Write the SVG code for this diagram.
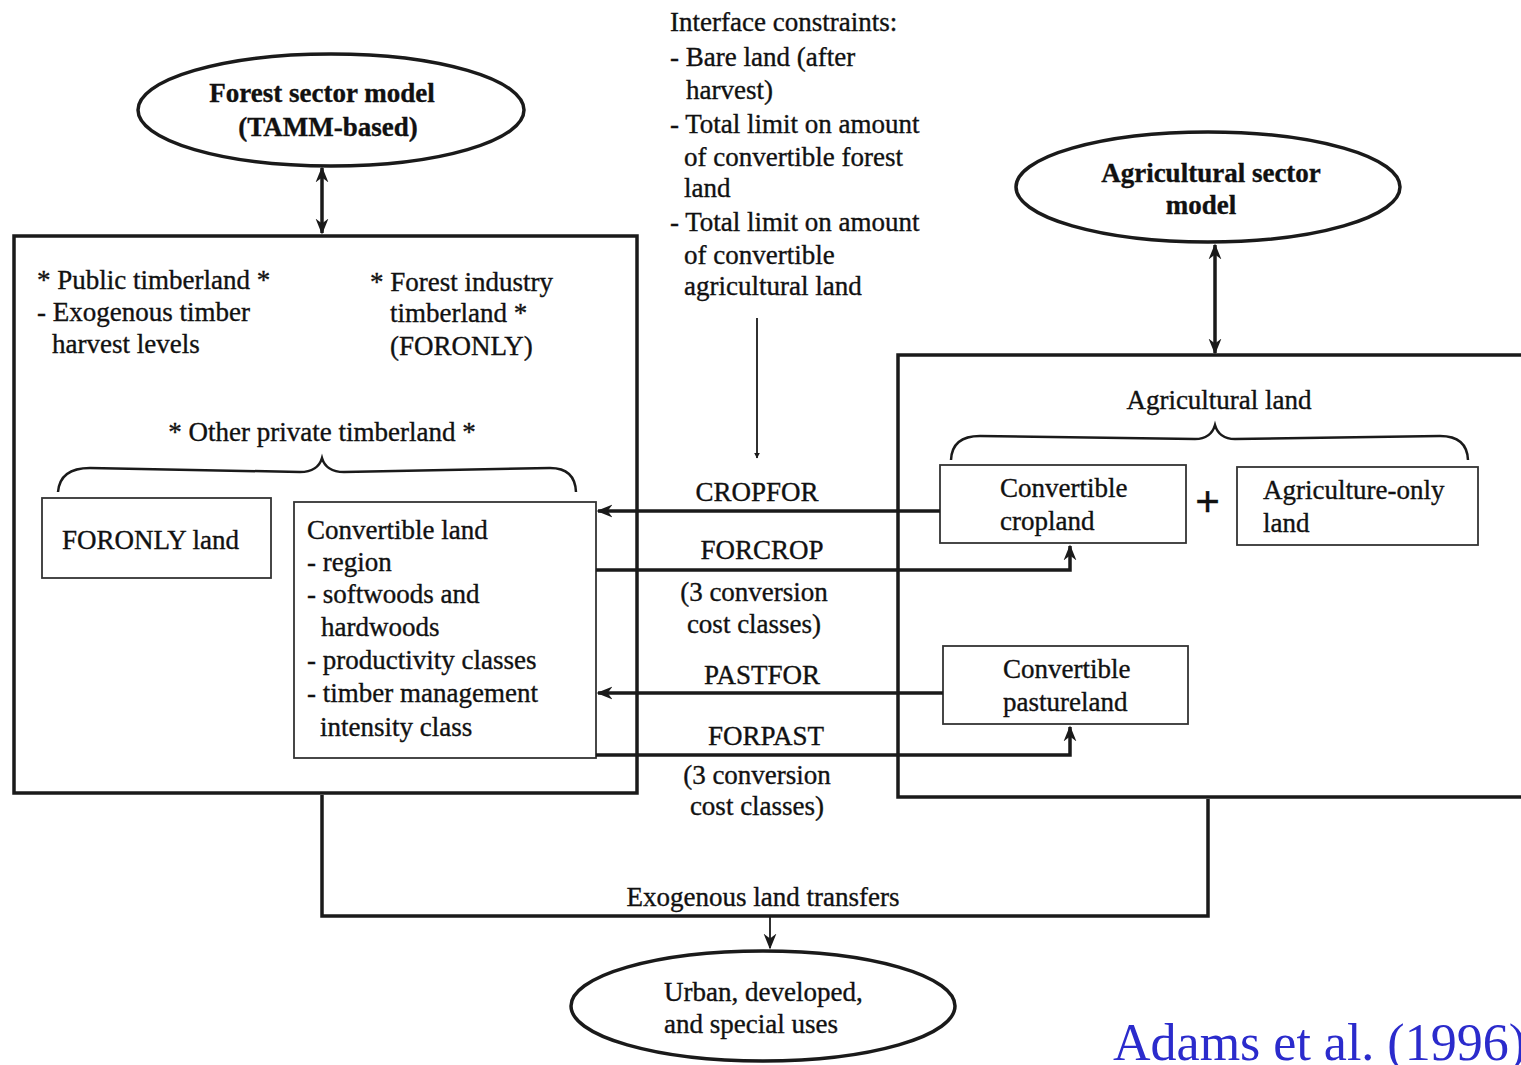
<svg xmlns="http://www.w3.org/2000/svg" width="1521" height="1065" viewBox="0 0 1521 1065">
<style>
text{font-family:"Liberation Serif",serif;font-size:27px;fill:#111;stroke:#111;stroke-width:0.35}
.b{font-weight:bold}
.m{text-anchor:middle}
.big{fill:none;stroke:#1a1a1a;stroke-width:3.5}
.box{fill:#fff;stroke:#333;stroke-width:1.8}
.ell{fill:#fff;stroke:#1a1a1a;stroke-width:3.5}
.c{fill:none;stroke:#1a1a1a;stroke-width:3.5}
.t{fill:none;stroke:#1a1a1a;stroke-width:1.8}
.br{fill:none;stroke:#1a1a1a;stroke-width:2.5}
</style>
<defs>
<marker id="ah" viewBox="0 0 10 10" refX="9" refY="5" markerWidth="6" markerHeight="6" orient="auto-start-reverse" markerUnits="userSpaceOnUse">
<path d="M0,0 L10,5 L0,10 z" fill="#1a1a1a"/>
</marker>
<marker id="ahl" viewBox="0 0 10 10" refX="9" refY="5" markerWidth="16" markerHeight="16" orient="auto-start-reverse" markerUnits="userSpaceOnUse">
<path d="M0,1 L10,5 L0,9 L3,5 z" fill="#1a1a1a"/>
</marker>
</defs>

<g id="forest-model">
<ellipse class="ell" cx="331" cy="110" rx="193" ry="56"/>
<text class="b m" x="322" y="102">Forest sector model</text>
<text class="b m" x="328" y="136">(TAMM-based)</text>
</g>

<g id="agri-model">
<ellipse class="ell" cx="1208" cy="187" rx="192" ry="55"/>
<text class="b m" x="1211" y="182">Agricultural sector</text>
<text class="b m" x="1201" y="214">model</text>
</g>

<g id="urban">
<ellipse class="ell" cx="763" cy="1006" rx="192" ry="55"/>
<text x="664" y="1001">Urban, developed,</text>
<text x="664" y="1033">and special uses</text>
</g>

<g id="interface-constraints">
<text x="670" y="31">Interface constraints:</text>
<text x="670" y="66">- Bare land (after</text>
<text x="686" y="99">harvest)</text>
<text x="670" y="133">- Total limit on amount</text>
<text x="684" y="166">of convertible forest</text>
<text x="684" y="197">land</text>
<text x="670" y="231">- Total limit on amount</text>
<text x="684" y="264">of convertible</text>
<text x="684" y="295">agricultural land</text>
</g>

<g id="forest-land">
<rect class="big" x="14" y="236" width="623" height="557"/>
<text x="37" y="289">* Public timberland *</text>
<text x="37" y="321">- Exogenous timber</text>
<text x="52" y="353">harvest levels</text>
<text x="370" y="291">* Forest industry</text>
<text x="390" y="322">timberland *</text>
<text x="390" y="355">(FORONLY)</text>
<text class="m" x="322" y="441">* Other private timberland *</text>
<path class="br" d="M58,492 Q60,468 90,468 L300,472 Q318,472 322,458 Q326,472 344,472 L550,468 Q575,468 576,492"/>
</g>

<g id="foronly-land">
<rect class="box" x="42" y="498" width="229" height="80"/>
<text x="62" y="549">FORONLY land</text>
</g>

<g id="convertible-land">
<rect class="box" x="294" y="502" width="302" height="256"/>
<text x="307" y="539">Convertible land</text>
<text x="307" y="571">- region</text>
<text x="307" y="603">- softwoods and</text>
<text x="321" y="636">hardwoods</text>
<text x="307" y="669">- productivity classes</text>
<text x="307" y="702">- timber management</text>
<text x="320" y="736">intensity class</text>
</g>

<g id="agri-land">
<rect class="big" x="898" y="355" width="640" height="442"/>
<text class="m" x="1219" y="409">Agricultural land</text>
<path class="br" d="M951,460 Q952,436 980,436 L1195,439 Q1211,439 1215,425 Q1219,439 1235,439 L1440,436 Q1467,436 1468,460"/>
<text class="b" x="1195" y="516" style="font-size:44px">+</text>
</g>

<g id="conv-cropland">
<rect class="box" x="940" y="465" width="246" height="78"/>
<text x="1000" y="497">Convertible</text>
<text x="1000" y="530">cropland</text>
</g>

<g id="agri-only">
<rect class="box" x="1237" y="467" width="241" height="78"/>
<text x="1263" y="499">Agriculture-only</text>
<text x="1263" y="532">land</text>
</g>

<g id="conv-pasture">
<rect class="box" x="943" y="646" width="245" height="78"/>
<text x="1003" y="678">Convertible</text>
<text x="1003" y="711">pastureland</text>
</g>

<g id="connectors">
<path class="c" d="M322,168 L322,233" marker-start="url(#ahl)" marker-end="url(#ahl)"/>
<path class="c" d="M1215,245 L1215,353" marker-start="url(#ahl)" marker-end="url(#ahl)"/>
<path class="t" d="M757,318 L757,458" marker-end="url(#ah)"/>
<path class="c" d="M940,511 L598,511" marker-end="url(#ahl)"/>
<path class="c" d="M596,570 L1070,570 L1070,546" marker-end="url(#ahl)"/>
<path class="c" d="M943,693 L598,693" marker-end="url(#ahl)"/>
<path class="c" d="M596,755 L1070,755 L1070,727" marker-end="url(#ahl)"/>
<path class="c" d="M322,795 L322,916 L1208,916 L1208,799"/>
<path class="t" d="M770,916 L770,948" marker-end="url(#ahl)"/>
<text class="m" x="757" y="501">CROPFOR</text>
<text class="m" x="762" y="559">FORCROP</text>
<text class="m" x="754" y="601">(3 conversion</text>
<text class="m" x="754" y="633">cost classes)</text>
<text class="m" x="762" y="684">PASTFOR</text>
<text class="m" x="766" y="745">FORPAST</text>
<text class="m" x="757" y="784">(3 conversion</text>
<text class="m" x="757" y="815">cost classes)</text>
<text class="m" x="763" y="906">Exogenous land transfers</text>
</g>

<text x="1113" y="1060" style="font-family:'Liberation Serif',serif;font-size:52px;fill:#2b2bcc;stroke:none">Adams et al. (1996)</text>
</svg>
